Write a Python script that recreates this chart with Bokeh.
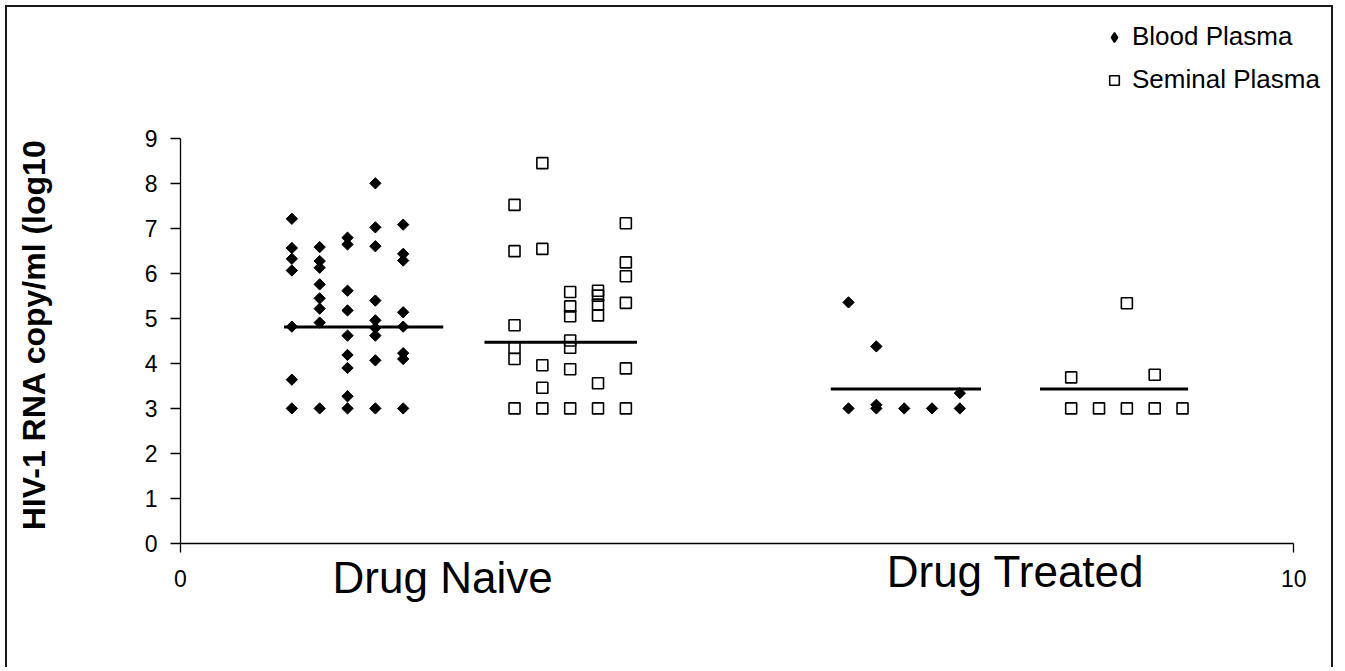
import numpy as np
from bokeh.plotting import figure
from bokeh.models import (Range1d, LinearAxis, FixedTicker, Legend, LegendItem, Label)
from bokeh.embed import file_html
from bokeh.resources import INLINE

# ---------------- data (log10 HIV-1 RNA copies/ml) ----------------
naive_blood_x = [1.0] * 7 + [1.25] * 8 + [1.5] * 9 + [1.75] * 9 + [2.0] * 8
naive_blood_y = [7.22, 6.57, 6.33, 6.07, 4.82, 3.64, 3.0,
                 6.59, 6.28, 6.13, 5.76, 5.45, 5.22, 4.91, 3.0,
                 6.80, 6.65, 5.62, 5.18, 4.62, 4.19, 3.90, 3.27, 3.0,
                 8.01, 7.03, 6.61, 5.40, 4.96, 4.79, 4.62, 4.07, 3.0,
                 7.09, 6.44, 6.29, 5.14, 4.82, 4.23, 4.10, 3.0]

naive_semen_x = [3.0] * 6 + [3.25] * 5 + [3.5] * 7 + [3.75] * 6 + [4.0] * 6
naive_semen_y = [7.53, 6.50, 4.85, 4.35, 4.10, 3.0,
                 8.46, 6.55, 3.96, 3.46, 3.0,
                 5.59, 5.27, 5.05, 4.51, 4.35, 3.87, 3.0,
                 5.62, 5.51, 5.31, 5.07, 3.56, 3.0,
                 7.12, 6.25, 5.94, 5.35, 3.89, 3.0]

treated_blood_x = [6.0, 6.0, 6.25, 6.25, 6.25, 6.5, 6.75, 7.0, 7.0]
treated_blood_y = [5.36, 3.0, 4.38, 3.08, 3.0, 3.0, 3.0, 3.34, 3.0]

treated_semen_x = [8.0, 8.0, 8.25, 8.5, 8.5, 8.75, 8.75, 9.0]
treated_semen_y = [3.69, 3.0, 3.0, 5.34, 3.0, 3.75, 3.0, 3.0]

# median bars
median_x0 = [0.93, 2.73, 5.84, 7.72]
median_x1 = [2.36, 4.10, 7.19, 9.05]
median_y = [4.81, 4.47, 3.43, 3.43]

y_ticks = [0, 1, 2, 3, 4, 5, 6, 7, 8, 9]
x_ticks = [0, 10]
group_labels = ["Drug Naive", "Drug Treated"]
group_label_x = [2.354, 7.50]
group_label_y = [-0.772, -0.625]
y_title = "HIV-1 RNA copy/ml (log10"
legend_labels = ["Blood Plasma", "Seminal Plasma"]

FONT = "Liberation Sans"

p = figure(width=1328, height=662,
           x_range=Range1d(-1.554, 10.374), y_range=Range1d(-2.811, 11.923),
           output_backend="svg", toolbar_location=None,
           x_axis_type=None, y_axis_type=None,
           min_border_left=0, min_border_right=0,
           min_border_top=0, min_border_bottom=0)
p.outline_line_color = None
p.background_fill_color = "white"
p.border_fill_color = "white"
p.styles = {"margin-left": "5px", "margin-top": "5px",
            "border-top": "2px solid #1a1a1a",
            "border-left": "2px solid #1a1a1a",
            "border-right": "2px solid #1a1a1a"}

yaxis = LinearAxis(ticker=FixedTicker(ticks=y_ticks), bounds=(0, 9), fixed_location=0)
yaxis.major_tick_out = 10
yaxis.major_tick_in = 0
yaxis.minor_tick_out = 0
yaxis.minor_tick_in = 0
yaxis.major_label_standoff = 13
yaxis.major_label_text_font = FONT
yaxis.major_label_text_font_size = "23px"
yaxis.major_label_text_color = "black"
yaxis.axis_line_color = "black"
yaxis.axis_line_width = 1.3
yaxis.major_tick_line_width = 1.3
p.add_layout(yaxis, "left")

xaxis = LinearAxis(ticker=FixedTicker(ticks=x_ticks), bounds=(0, 10), fixed_location=0)
xaxis.major_tick_out = 9
xaxis.major_tick_in = 0
xaxis.minor_tick_out = 0
xaxis.minor_tick_in = 0
xaxis.major_label_standoff = 18
xaxis.major_label_text_font = FONT
xaxis.major_label_text_font_size = "23px"
xaxis.major_label_text_color = "black"
xaxis.axis_line_color = "black"
xaxis.axis_line_width = 1.3
xaxis.major_tick_line_width = 1.3
p.add_layout(xaxis, "below")

# legend glyph for blood plasma: plain diamonds hidden under the rotated squares
leg_blood = p.scatter(treated_blood_x, treated_blood_y, marker="diamond", size=7,
                      fill_color="black", line_color="black", line_width=1.5)

# points
p.scatter(naive_blood_x, naive_blood_y, marker="square", angle=np.pi / 4,
          size=8, fill_color="black", line_color="black", line_width=1)
p.scatter(treated_blood_x, treated_blood_y, marker="square", angle=np.pi / 4,
          size=8, fill_color="black", line_color="black", line_width=1)
r_semen = p.scatter(naive_semen_x, naive_semen_y, marker="square", size=11,
                    fill_color=None, line_color="black", line_width=1.6)
p.scatter(treated_semen_x, treated_semen_y, marker="square", size=11,
          fill_color=None, line_color="black", line_width=1.6)

# median lines
p.segment(x0=median_x0, y0=median_y, x1=median_x1, y1=median_y,
          line_color="black", line_width=3)

# group labels
for t, gx, gy in zip(group_labels, group_label_x, group_label_y):
    p.add_layout(Label(x=gx, y=gy, text=t, text_align="center",
                       text_baseline="alphabetic", text_font=FONT,
                       text_font_size="44px", text_color="black"))

# y-axis title
p.add_layout(Label(x=-1.32, y=4.64, text=y_title, angle=np.pi / 2,
                   text_align="center", text_baseline="alphabetic",
                   text_font=FONT, text_font_style="bold",
                   text_font_size="32px", text_color="black"))

legend = Legend(items=[LegendItem(label=legend_labels[0], renderers=[leg_blood]),
                       LegendItem(label=legend_labels[1], renderers=[r_semen])],
                location=(1095, 574))
legend.margin = 0
legend.padding = 4
legend.spacing = 12
legend.glyph_width = 24
legend.glyph_height = 24
legend.label_standoff = 6
legend.label_text_font = FONT
legend.label_text_font_size = "26px"
legend.label_text_color = "black"
legend.border_line_color = None
legend.background_fill_alpha = 0
p.add_layout(legend)

open("out.html", "w").write(file_html(p, INLINE))
